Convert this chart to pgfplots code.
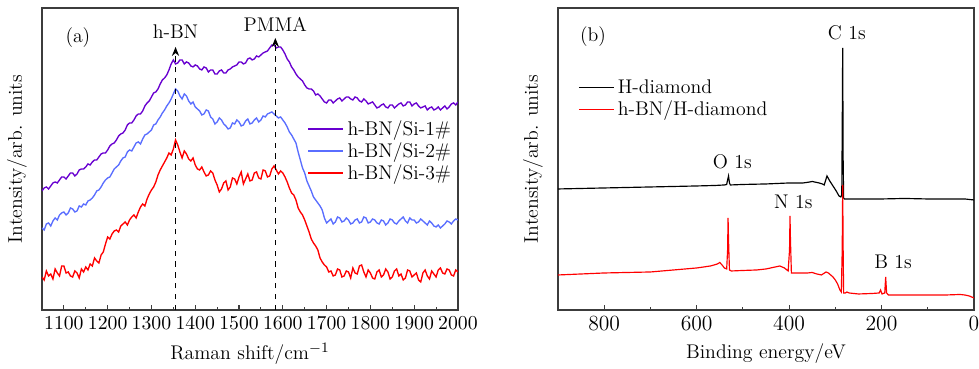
\documentclass[border=0pt]{standalone}
\usepackage{pgfplots}
\pgfplotsset{compat=1.18}
\usetikzlibrary{arrows.meta}
\definecolor{cpurple}{RGB}{104,0,208}
\definecolor{cblue}{RGB}{90,110,255}
\definecolor{cred}{RGB}{255,0,0}
\definecolor{frame}{RGB}{60,60,60}
\begin{document}
\begin{tikzpicture}
\useasboundingbox (0,0) rectangle (543.9pt,205pt);
\pgfplotsset{
  myax/.style={
    scale only axis, anchor=south west,
    width=231.1pt, height=167.8pt,
    ymin=0, ymax=302, ytick=\empty,
    xtick pos=left, tick align=inside,
    major tick length=3pt, minor tick length=1.8pt,
    minor x tick num=1,
    x tick label style={/pgf/number format/1000 sep={}},
    axis line style={draw=frame, line width=0.9pt},
    every tick/.style={frame, line width=0.6pt},
    tick label style={font=\fontsize{10.5}{12}\selectfont},
    label style={font=\fontsize{11}{13}\selectfont},
    ylabel style={at={(axis description cs:-0.06,0.5)}, anchor=center},
    xlabel style={at={(axis description cs:0.5,-0.145)}, anchor=center},
    legend cell align=left,
    legend style={draw=none, fill=none, font=\fontsize{11}{13}\selectfont, row sep=-1.5pt},
    legend image code/.code={\draw[#1] (0cm,0cm) -- (0.68cm,0cm);},
  }
}
% ---------- (a) ----------
\begin{axis}[myax, at={(23.33pt,32.78pt)},
  xmin=1050, xmax=2000, xtick={1100,1200,...,2000},
  xlabel={Raman shift/cm$^{-1}$}, ylabel={Intensity/arb. units},
  legend style={at={(0.625,0.526)}, anchor=west}]
\addplot[cpurple, line width=0.75pt] coordinates {
(1050,119)(1055,122)(1060,123)(1065,121)(1070,124)(1075,127)(1080,128)(1085,127)(1090,130)(1095,133)
(1100,133)(1105,131)(1110,134)(1115,137)(1120,137)(1125,134)(1130,136)(1135,140)(1140,141)(1145,141)
(1150,143)(1155,146)(1160,145)(1165,148)(1170,150)(1175,150)(1180,153)(1185,156)(1190,157)(1195,157)
(1200,160)(1205,164)(1210,166)(1215,167)(1220,170)(1225,174)(1230,176)(1235,177)(1240,180)(1245,185)
(1250,187)(1255,187)(1260,190)(1265,194)(1270,196)(1275,196)(1280,199)(1285,204)(1290,207)(1295,209)
(1300,213)(1305,217)(1310,218)(1315,221)(1320,226)(1325,230)(1330,232)(1335,235)(1340,240)(1345,246)
(1350,250)(1355,246)(1360,247)(1365,250)(1370,250)(1375,246)(1380,248)(1385,247)(1390,244)(1395,243)
(1400,245)(1405,244)(1410,241)(1415,240)(1420,243)(1425,242)(1430,238)(1435,240)(1440,240)(1445,236)
(1450,236)(1455,239)(1460,240)(1465,237)(1470,237)(1475,240)(1480,241)(1485,243)(1490,244)(1495,245)
(1500,248)(1505,248)(1510,246)(1515,247)(1520,251)(1525,252)(1530,250)(1535,251)(1540,254)(1545,253)
(1550,255)(1555,257)(1560,258)(1565,259)(1570,262)(1575,265)(1580,265)(1585,262)(1590,263)(1595,263)
(1600,260)(1605,256)(1610,251)(1615,248)(1620,243)(1625,240)(1630,236)(1635,233)(1640,231)(1645,229)
(1650,225)(1655,222)(1660,221)(1665,221)(1670,219)(1675,215)(1680,216)(1685,214)(1690,211)(1695,208)
(1700,207)(1705,210)(1710,210)(1715,207)(1720,209)(1725,211)(1730,212)(1735,209)(1740,211)(1745,213)
(1750,213)(1755,211)(1760,210)(1765,213)(1770,212)(1775,209)(1780,208)(1785,211)(1790,209)(1795,206)
(1800,207)(1805,208)(1810,205)(1815,202)(1820,203)(1825,205)(1830,206)(1835,203)(1840,202)(1845,205)
(1850,205)(1855,202)(1860,204)(1865,206)(1870,207)(1875,204)(1880,205)(1885,208)(1890,208)(1895,204)
(1900,206)(1905,207)(1910,204)(1915,202)(1920,203)(1925,204)(1930,200)(1935,202)(1940,203)(1945,200)
(1950,201)(1955,203)(1960,200)(1965,202)(1970,204)(1975,201)(1980,203)(1985,206)(1990,207)(1995,205)
(2000,208)};
\addlegendentry{h-BN/Si-1\#}
\addplot[cblue, line width=0.75pt] coordinates {
(1050,82)(1055,80)(1060,86)(1065,87)(1070,84)(1075,89)(1080,92)(1085,90)(1090,95)(1095,97)
(1100,98)(1105,95)(1110,97)(1115,102)(1120,101)(1125,98)(1130,99)(1135,104)(1140,103)(1145,106)
(1150,105)(1155,109)(1160,110)(1165,112)(1170,115)(1175,119)(1180,120)(1185,123)(1190,127)(1195,130)
(1200,132)(1205,133)(1210,137)(1215,141)(1220,143)(1225,145)(1230,149)(1235,152)(1240,153)(1245,158)
(1250,160)(1255,159)(1260,163)(1265,167)(1270,168)(1275,166)(1280,171)(1285,175)(1290,176)(1295,178)
(1300,180)(1305,185)(1310,186)(1315,190)(1320,193)(1325,197)(1330,200)(1335,204)(1340,207)(1345,211)
(1350,216)(1355,221)(1360,219)(1365,214)(1370,211)(1375,216)(1380,214)(1385,209)(1390,206)(1395,208)
(1400,203)(1405,201)(1410,199)(1415,195)(1420,196)(1425,200)(1430,199)(1435,193)(1440,191)(1445,186)
(1450,188)(1455,192)(1460,190)(1465,186)(1470,184)(1475,181)(1480,182)(1485,187)(1490,186)(1495,190)
(1500,188)(1505,184)(1510,185)(1515,189)(1520,191)(1525,186)(1530,187)(1535,190)(1540,192)(1545,188)
(1550,190)(1555,194)(1560,193)(1565,196)(1570,197)(1575,198)(1580,196)(1585,194)(1590,192)(1595,193)
(1600,190)(1605,187)(1610,183)(1615,178)(1620,175)(1625,171)(1630,167)(1635,158)(1640,150)(1645,142)
(1650,137)(1655,129)(1660,124)(1665,119)(1670,113)(1675,110)(1680,107)(1685,104)(1690,100)(1695,92)
(1700,87)(1705,89)(1710,91)(1715,86)(1720,88)(1725,93)(1730,92)(1735,88)(1740,89)(1745,92)
(1750,90)(1755,86)(1760,87)(1765,90)(1770,91)(1775,87)(1780,88)(1785,93)(1790,92)(1795,87)
(1800,88)(1805,91)(1810,90)(1815,87)(1820,86)(1825,90)(1830,89)(1835,85)(1840,87)(1845,91)
(1850,90)(1855,87)(1860,86)(1865,89)(1870,91)(1875,93)(1880,89)(1885,87)(1890,92)(1895,90)
(1900,90)(1905,87)(1910,88)(1915,91)(1920,89)(1925,87)(1930,85)(1935,89)(1940,87)(1945,84)
(1950,83)(1955,85)(1960,82)(1965,84)(1970,86)(1975,89)(1980,88)(1985,86)(1990,89)(1995,91)
(2000,90)};
\addlegendentry{h-BN/Si-2\#}
\addplot[cred, line width=0.75pt] coordinates {
(1050,33)(1055,30)(1060,39)(1065,34)(1070,36)(1075,31)(1080,41)(1085,37)(1090,34)(1095,44)
(1100,44)(1105,37)(1110,38)(1115,34)(1120,33)(1125,39)(1130,37)(1135,32)(1140,41)(1145,38)
(1150,43)(1155,40)(1160,46)(1165,44)(1170,52)(1175,49)(1180,47)(1185,55)(1190,58)(1195,66)
(1200,73)(1205,71)(1210,76)(1215,79)(1220,80)(1225,78)(1230,84)(1235,86)(1240,88)(1245,85)
(1250,90)(1255,93)(1260,95)(1265,92)(1270,98)(1275,103)(1280,106)(1285,104)(1290,111)(1295,116)
(1300,120)(1305,123)(1310,128)(1315,135)(1320,140)(1325,144)(1330,148)(1335,152)(1340,157)(1345,155)
(1350,161)(1355,170)(1360,165)(1365,158)(1370,152)(1375,159)(1380,156)(1385,151)(1390,149)(1395,152)
(1400,145)(1405,141)(1410,140)(1415,143)(1420,138)(1425,134)(1430,135)(1435,139)(1440,137)(1445,130)
(1450,125)(1455,118)(1460,121)(1465,127)(1470,129)(1475,120)(1480,123)(1485,132)(1490,131)(1495,126)
(1500,133)(1505,138)(1510,126)(1515,131)(1520,136)(1525,129)(1530,130)(1535,137)(1540,138)(1545,132)
(1550,131)(1555,140)(1560,139)(1565,133)(1570,134)(1575,141)(1580,144)(1585,140)(1590,136)(1595,139)
(1600,137)(1605,133)(1610,128)(1615,122)(1620,117)(1625,115)(1630,110)(1635,102)(1640,98)(1645,95)
(1650,90)(1655,84)(1660,78)(1665,71)(1670,67)(1675,64)(1680,60)(1685,52)(1690,48)(1695,45)
(1700,43)(1705,38)(1710,39)(1715,34)(1720,35)(1725,41)(1730,40)(1735,33)(1740,34)(1745,39)
(1750,38)(1755,32)(1760,42)(1765,37)(1770,36)(1775,44)(1780,45)(1785,38)(1790,33)(1795,40)
(1800,37)(1805,32)(1810,31)(1815,38)(1820,40)(1825,33)(1830,35)(1835,41)(1840,38)(1845,31)
(1850,33)(1855,39)(1860,41)(1865,34)(1870,36)(1875,30)(1880,32)(1885,40)(1890,39)(1895,33)
(1900,35)(1905,37)(1910,30)(1915,28)(1920,37)(1925,40)(1930,34)(1935,31)(1940,39)(1945,36)
(1950,33)(1955,40)(1960,42)(1965,37)(1970,36)(1975,41)(1980,40)(1985,35)(1990,34)(1995,40)
(2000,38)};
\addlegendentry{h-BN/Si-3\#}
\draw[dashed, line width=0.7pt, -{Stealth[length=5pt,width=4pt]}] (axis cs:1355,0) -- (axis cs:1355,263);
\draw[dashed, line width=0.7pt, -{Stealth[length=5pt,width=4pt]}] (axis cs:1583,0) -- (axis cs:1583,272);
\node[font=\fontsize{11}{13}\selectfont] at (axis cs:1355,278) {h-BN};
\node[font=\fontsize{11}{13}\selectfont] at (axis cs:1583,286) {PMMA};
\node[font=\fontsize{11}{13}\selectfont] at (axis cs:1132,272) {(a)};
\end{axis}
% ---------- (b) ----------
\begin{axis}[myax, at={(310.0pt,32.78pt)},
  x dir=reverse, xmin=0, xmax=900, xtick={0,200,400,600,800},
  tick label style={font=\fontsize{11.5}{13}\selectfont},
  xlabel={Binding energy/eV}, ylabel={Intensity/arb. units},
  legend style={at={(0.035,0.699)}, anchor=west}]
\addplot[black, line width=0.65pt] coordinates {
(900,121)(850,121.5)(800,122)(750,122.5)(700,123)(650,123.5)(600,124)(560,124.5)(540,125)(535,125.5)
(533,130)(531,134)(529,127)(527,125)(500,125.5)(450,126)(400,127)(370,127)(355,128)(350,128.5)
(345,128)(335,127)(328,126)(324,125)(318,134)(312,129)(305,124)(298,119)(292,114)(288,113)
(286,115)(285,180)(284,262)(283,150)(282,112)(280,111)(270,111)(200,111)(150,111.5)(100,111)
(50,111)(20,111)(10,110.5)(0,110)};
\addlegendentry{H-diamond}
\addplot[cred, line width=0.65pt] coordinates {
(900,35)(850,36)(800,37)(750,37.5)(700,38)(650,40)(600,42)(570,44)(555,46)(550,47.5)
(545,45)(540,42)(535,41)(533,60)(532,92)(531,70)(529,40)(525,39)(500,39.5)(470,40)
(450,41)(430,43)(420,44)(410,42)(402,39)(399,60)(398,94)(397,70)(395,37)(380,37)
(360,37)(350,37.5)(340,36)(330,35)(320,38)(315,37)(310,35)(305,33)(300,30)(295,26)
(290,20)(287,18)(285,60)(284,125)(283,60)(282,17)(278,17)(275,18)(270,17)(250,16)
(220,16.5)(205,17)(202,20)(199,16)(193,17)(191,33)(189,17)(185,15)(150,15)(100,15)
(60,15)(30,15.5)(20,15)(10,14)(0,12)};
\addlegendentry{h-BN/H-diamond}
\node[font=\fontsize{11}{13}\selectfont] at (axis cs:523,148) {O 1s};
\node[font=\fontsize{11}{13}\selectfont] at (axis cs:391,108) {N 1s};
\node[font=\fontsize{11}{13}\selectfont] at (axis cs:275,277) {C 1s};
\node[font=\fontsize{11}{13}\selectfont] at (axis cs:175,48) {B 1s};
\node[font=\fontsize{11}{13}\selectfont] at (axis cs:824,273) {(b)};
\end{axis}
\end{tikzpicture}
\end{document}
